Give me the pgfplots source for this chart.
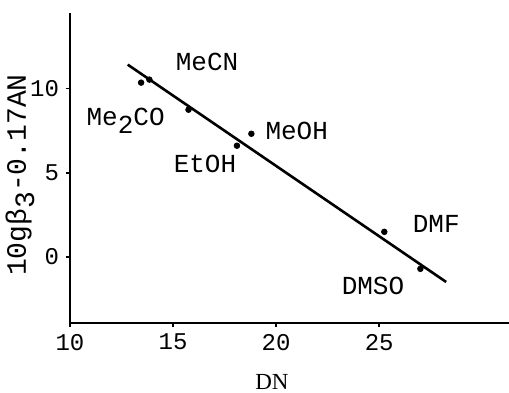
\documentclass[border=0pt]{standalone}
\usepackage{fontspec}
\setmainfont{Liberation Serif}
\setmonofont{Liberation Mono}
\usepackage{pgfplots}
\pgfplotsset{compat=1.18}
\begin{document}
\begin{tikzpicture}
\path[use as bounding box] (-35pt,-34.5pt) rectangle (219.5pt,161.5pt);
\begin{axis}[
  at={(0,0)}, anchor=south west,
  scale only axis, width=219.5pt, height=155pt,
  xmin=10, xmax=31.3, ymin=-3.93, ymax=14.5,
  axis lines=left,
  axis line style={-, line width=1.4pt},
  xtick={10,15,20,25}, ytick={0,5,10},
  tick align=outside, major tick length=2pt,
  tick style={line width=0.8pt, black},
  /pgf/number format/assume math mode=true,
  ticklabel style={font=\fontsize{12}{14}\selectfont\ttfamily},
  clip=false,
]
\addplot[only marks, mark=*, mark size=1.4pt, black] coordinates {
  (13.45,10.36) (13.85,10.54) (15.75,8.75) (18.1,6.61) (18.8,7.32) (25.25,1.49) (27.0,-0.71)
};
\addplot[black, line width=1.3pt] coordinates {(12.8,11.43) (28.25,-1.49)};
\begin{scope}[every node/.style={font=\fontsize{13}{15}\selectfont\ttfamily}]
\node at (axis cs:16.65,11.6) {MeCN};
\node at (axis cs:12.7,8.1) {Me\raisebox{-0.55ex}{2}CO};
\node at (axis cs:16.55,5.54) {EtOH};
\node at (axis cs:21.0,7.5) {MeOH};
\node at (axis cs:27.77,1.96) {DMF};
\node at (axis cs:24.7,-1.73) {DMSO};
\end{scope}
\end{axis}
\node[rotate=90, font=\fontsize{14}{16}\selectfont\ttfamily] at (-25pt,74pt) {10gβ\raisebox{-0.55ex}{3}-0.17AN};
\node[font=\fontsize{11.5}{13}\selectfont] at (101pt,-29.5pt) {DN};
\end{tikzpicture}
\end{document}
